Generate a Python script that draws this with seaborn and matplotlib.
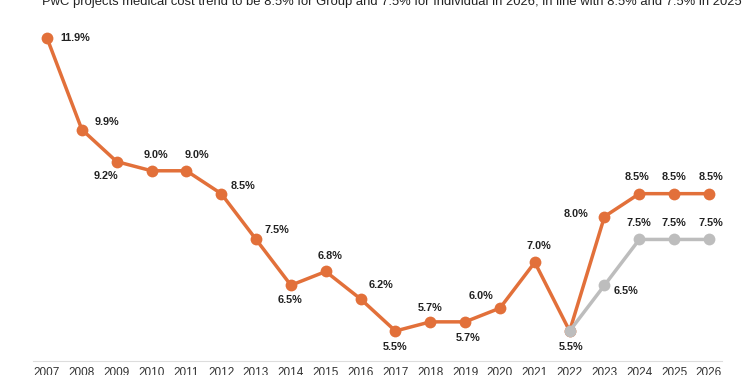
import matplotlib
matplotlib.use("Agg")
import matplotlib.pyplot as plt
import pandas as pd
import seaborn as sns

# data
years = list(range(2007, 2027))
group_trend = [11.9, 9.9, 9.2, 9.0, 9.0, 8.5, 7.5, 6.5, 6.8, 6.2,
               5.5, 5.7, 5.7, 6.0, 7.0, 5.5, 8.0, 8.5, 8.5, 8.5]
indiv_years = [2022, 2023, 2024, 2025, 2026]
indiv_trend = [5.5, 6.5, 7.5, 7.5, 7.5]

title = ("PwC projects medical cost trend to be 8.5% for Group and 7.5% for "
         "Individual in 2026, in line with 8.5% and 7.5% in 2025")

# label offsets in pixels (dx, dy), one per point
group_offsets = [(28, 0), (25, 8), (-11, -14), (4, 16), (11, 16), (22, 8),
                 (21, 9), (-1, -15), (4, 15), (20, 14), (0, -16), (0, 14),
                 (3, -16), (-19, 12), (4, 16), (1, -16), (-28, 3), (-2, 17),
                 (0, 17), (2, 17)]
indiv_offsets = [None, (22, -6), (0, 16), (0, 16), (2, 16)]

ORANGE = "#E2703A"
GRAY = "#BDBDBD"

df = pd.concat([
    pd.DataFrame({"year": years, "trend": group_trend, "plan": "Group"}),
    pd.DataFrame({"year": indiv_years, "trend": indiv_trend, "plan": "Individual"}),
])

sns.set_theme(style="white")
plt.rcParams["font.family"] = ["Liberation Sans", "DejaVu Sans"]

fig = plt.figure(figsize=(7.5, 3.75), dpi=100)
ax = fig.add_axes([33 / 750, 14 / 375, (722 - 33) / 750, 361 / 375])

sns.lineplot(data=df, x="year", y="trend", hue="plan",
             palette={"Group": ORANGE, "Individual": GRAY},
             hue_order=["Group", "Individual"],
             marker="o", markersize=8.5, markeredgewidth=0, linewidth=2.5,
             legend=False, ax=ax, clip_on=False)

for x, y, off in zip(years, group_trend, group_offsets):
    ax.annotate(f"{y:.1f}%", (x, y), xytext=off, textcoords="offset pixels",
                ha="center", va="center", fontsize=7.8, fontweight="bold",
                color="#222222")
for x, y, off in zip(indiv_years, indiv_trend, indiv_offsets):
    if off is None:
        continue
    ax.annotate(f"{y:.1f}%", (x, y), xytext=off, textcoords="offset pixels",
                ha="center", va="center", fontsize=7.8, fontweight="bold",
                color="#222222")

ax.set_xlim(2006.598, 2026.373)
ax.set_ylim(4.845, 12.73)
ax.set_xticks(years)
ax.set_xticklabels([str(y) for y in years])
ax.set_yticks([])
ax.set_xlabel("")
ax.set_ylabel("")
ax.tick_params(axis="x", length=0, pad=4.5, labelsize=8.5, colors="#333333")
for side in ["left", "top", "right"]:
    ax.spines[side].set_visible(False)
ax.spines["bottom"].set_color("#DDDDDD")
ax.spines["bottom"].set_linewidth(0.8)

fig.text(0.523, 1 - 2 / 375, title, ha="center", va="center",
         fontsize=9.4, color="#222222")

fig.savefig("out.png", dpi=100)
